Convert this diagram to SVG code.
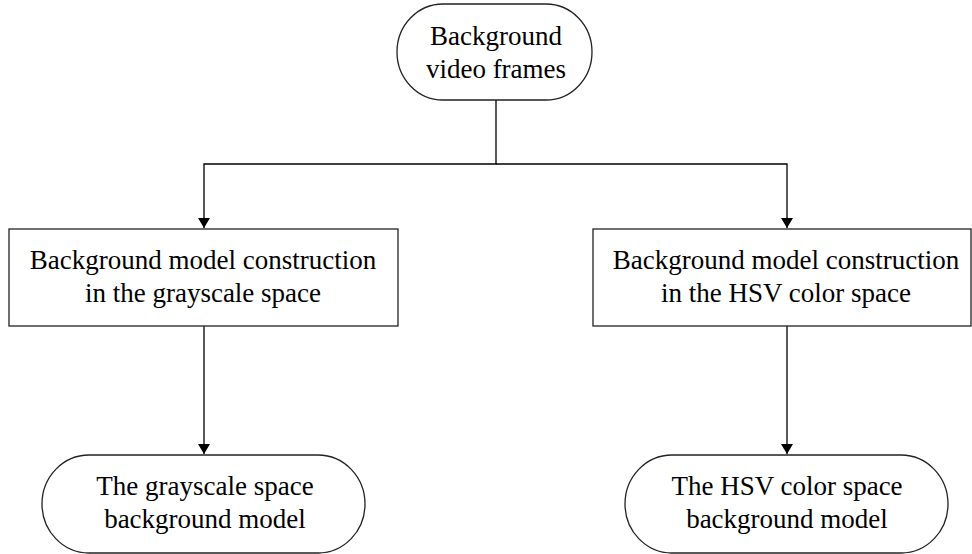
<svg xmlns="http://www.w3.org/2000/svg" width="972" height="554" viewBox="0 0 972 554">
  <style>
    .shape { fill: #ffffff; stroke: #222222; stroke-width: 1.3; }
    .label { font-family: "Liberation Serif", "Times New Roman", serif; font-size: 27px; fill: #000000; text-anchor: middle; }
    .edge { fill: none; stroke: #000000; stroke-width: 1.3; }
  </style>
  <defs>
    <marker id="arrow" viewBox="0 0 10 12" refX="10" refY="6" markerWidth="10" markerHeight="12" markerUnits="userSpaceOnUse" orient="auto">
      <path d="M0,0 L10,6 L0,12 Z" fill="#000000"/>
    </marker>
  </defs>
  <rect width="972" height="554" fill="#ffffff"/>

  <g id="connectors">
    <path class="edge" d="M496,100 V164 H204 V228" marker-end="url(#arrow)"/>
    <path class="edge" d="M496,164 H787 V228" marker-end="url(#arrow)"/>
    <path class="edge" d="M204,326 V454" marker-end="url(#arrow)"/>
    <path class="edge" d="M787,326 V454" marker-end="url(#arrow)"/>
  </g>

  <g id="node-frames">
    <rect class="shape" x="397" y="4" width="195" height="96" rx="46" ry="48"/>
    <text class="label" x="496" y="45">Background</text>
    <text class="label" x="496" y="78">video frames</text>
  </g>

  <g id="node-gray-build">
    <rect class="shape" x="9" y="229" width="389" height="97"/>
    <text class="label" x="203" y="269">Background model construction</text>
    <text class="label" x="203" y="302">in the grayscale space</text>
  </g>

  <g id="node-hsv-build">
    <rect class="shape" x="593" y="229" width="378" height="97"/>
    <text class="label" x="786" y="269">Background model construction</text>
    <text class="label" x="786" y="302">in the HSV color space</text>
  </g>

  <g id="node-gray-model">
    <rect class="shape" x="42" y="455" width="323" height="98" rx="47" ry="49"/>
    <text class="label" x="205" y="495">The grayscale space</text>
    <text class="label" x="205" y="528">background model</text>
  </g>

  <g id="node-hsv-model">
    <rect class="shape" x="625" y="455" width="323" height="98" rx="47" ry="49"/>
    <text class="label" x="787" y="495">The HSV color space</text>
    <text class="label" x="787" y="528">background model</text>
  </g>
</svg>
